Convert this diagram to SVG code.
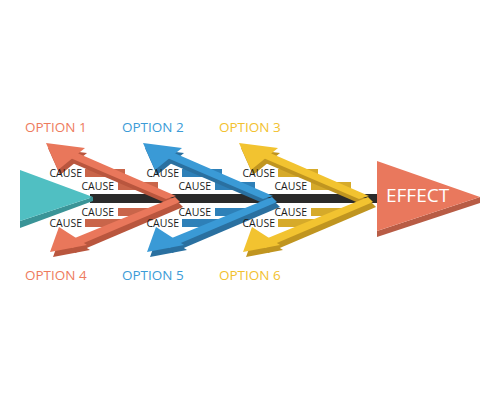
<svg xmlns="http://www.w3.org/2000/svg" width="500" height="400" viewBox="0 0 500 400">
<style>
.cause{font-family:"Open Sans","Liberation Sans",sans-serif;font-size:10.5px;fill:#1a1a1a;text-anchor:end}
.opt{font-family:"Open Sans","Liberation Sans",sans-serif;font-size:13.5px}
.o .lt{fill:#e9775b}.o .dk{fill:#b9563e}.o .bar{fill:#c9654a}.o .opt{fill:#ee7b5d}
.b .lt{fill:#3a9ad6}.b .dk{fill:#2a70a0}.b .bar{fill:#2e80b8}.b .opt{fill:#3b9bd7}
.y .lt{fill:#f2c330}.y .dk{fill:#c09520}.y .bar{fill:#d6aa2a}.y .opt{fill:#f2c12e}
.spine{fill:#2a2a2a}
</style>
<g id="connectors">
<rect class="spine" x="90" y="194" width="290" height="9"/>
</g>
<g id="source">
<polygon points="20,221 93,197 93,201 20,228" fill="#3a9497"/>
<polygon points="20,170 93,197 20,221" fill="#50bfc2"/>
</g>
<g id="effect">
<polygon points="377,231 480,197 480,203 377,237" fill="#b85c45"/>
<polygon points="377,161 480,197 377,231" fill="#e9785d"/>
<text x="386" y="202" font-family="Open Sans, Liberation Sans, sans-serif" font-size="19" fill="#fff">EFFECT</text>
</g>
<g id="option1" class="o">
<rect class="bar" x="85" y="169" width="40" height="8"/>
<rect class="bar" x="118" y="182" width="40" height="8"/>
<g class="dk" transform="translate(2,5)"><polygon points="176,196 68,149 68,157 166,199"/><polygon points="46,143 85,148 58,170"/></g>
<polygon class="lt" points="176,196 68,149 68,157 166,199"/>
<polygon class="lt" points="46,143 85,148 58,170"/>
<text class="cause" x="82" y="177">CAUSE</text>
<text class="cause" x="114" y="189.5">CAUSE</text>
<text class="opt" x="25" y="132">OPTION 1</text>
</g>
<g id="option4" class="o">
<rect class="bar" x="118" y="208" width="34" height="8"/>
<rect class="bar" x="85" y="219" width="40" height="8"/>
<g class="dk" transform="translate(3,5)"><polygon points="175,197 70,240 72,248 180,202"/><polygon points="50,252 59,227 87,245"/></g>
<polygon class="lt" points="175,197 70,240 72,248 180,202"/>
<polygon class="lt" points="50,252 59,227 87,245"/>
<text class="cause" x="114" y="215.5">CAUSE</text>
<text class="cause" x="82" y="227">CAUSE</text>
<text class="opt" x="25" y="280">OPTION 4</text>
</g>
<g id="option2" class="b" transform="translate(97,0)">
<rect class="bar" x="85" y="169" width="40" height="8"/>
<rect class="bar" x="118" y="182" width="40" height="8"/>
<g class="dk" transform="translate(2,5)"><polygon points="176,196 68,149 68,157 166,199"/><polygon points="46,143 85,148 58,170"/></g>
<polygon class="lt" points="176,196 68,149 68,157 166,199"/>
<polygon class="lt" points="46,143 85,148 58,170"/>
<text class="cause" x="82" y="177">CAUSE</text>
<text class="cause" x="114" y="189.5">CAUSE</text>
<text class="opt" x="25" y="132">OPTION 2</text>
</g>
<g id="option5" class="b" transform="translate(97,0)">
<rect class="bar" x="118" y="208" width="34" height="8"/>
<rect class="bar" x="85" y="219" width="40" height="8"/>
<g class="dk" transform="translate(3,5)"><polygon points="175,197 70,240 72,248 180,202"/><polygon points="50,252 59,227 87,245"/></g>
<polygon class="lt" points="175,197 70,240 72,248 180,202"/>
<polygon class="lt" points="50,252 59,227 87,245"/>
<text class="cause" x="114" y="215.5">CAUSE</text>
<text class="cause" x="82" y="227">CAUSE</text>
<text class="opt" x="25" y="280">OPTION 5</text>
</g>
<g id="option3" class="y" transform="translate(193,0)">
<rect class="bar" x="85" y="169" width="40" height="8"/>
<rect class="bar" x="118" y="182" width="40" height="8"/>
<g class="dk" transform="translate(2,5)"><polygon points="176,196 68,149 68,157 166,199"/><polygon points="46,143 85,148 58,170"/></g>
<polygon class="lt" points="176,196 68,149 68,157 166,199"/>
<polygon class="lt" points="46,143 85,148 58,170"/>
<text class="cause" x="82" y="177">CAUSE</text>
<text class="cause" x="114" y="189.5">CAUSE</text>
<text class="opt" x="26" y="132">OPTION 3</text>
</g>
<g id="option6" class="y" transform="translate(193,0)">
<rect class="bar" x="118" y="208" width="34" height="8"/>
<rect class="bar" x="85" y="219" width="40" height="8"/>
<g class="dk" transform="translate(3,5)"><polygon points="175,197 70,240 72,248 180,202"/><polygon points="50,252 59,227 87,245"/></g>
<polygon class="lt" points="175,197 70,240 72,248 180,202"/>
<polygon class="lt" points="50,252 59,227 87,245"/>
<text class="cause" x="114" y="215.5">CAUSE</text>
<text class="cause" x="82" y="227">CAUSE</text>
<text class="opt" x="26" y="280">OPTION 6</text>
</g>
</svg>
